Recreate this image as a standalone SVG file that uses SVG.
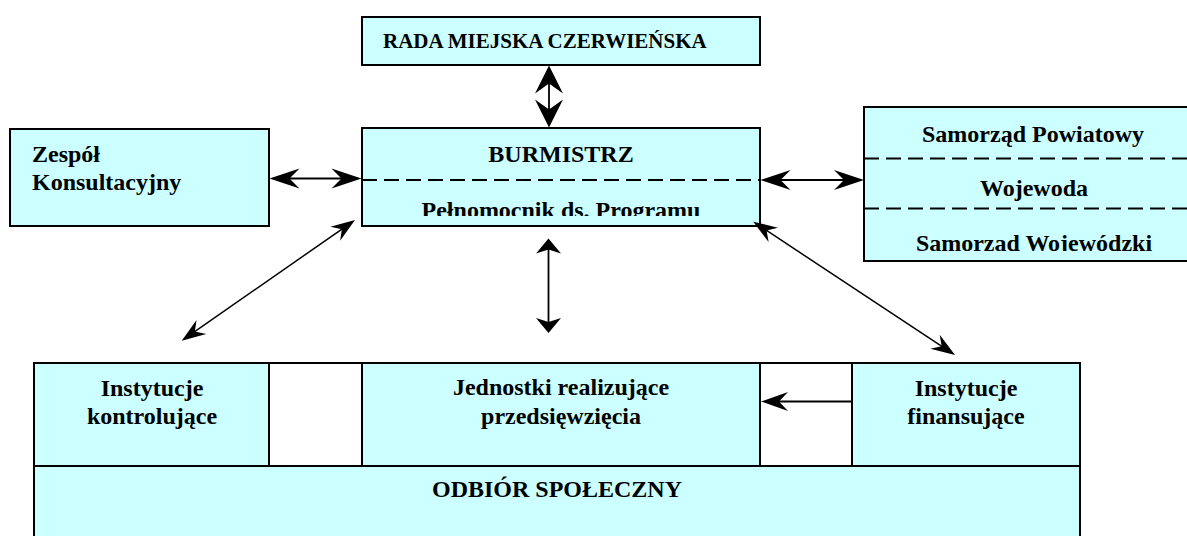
<svg xmlns="http://www.w3.org/2000/svg" width="1187" height="536" viewBox="0 0 1187 536">
<style>
.box{fill:#CCFFFF;stroke:#000;stroke-width:2}
.gap{fill:#FFFFFF;stroke:#000;stroke-width:2}
.div{fill:none;stroke:#000;stroke-width:2;stroke-dasharray:15 7}
.t{font-family:"Liberation Serif","Times New Roman",serif;font-weight:bold;font-size:24px;fill:#000}
.c{text-anchor:middle}
.ln{fill:none;stroke:#000;stroke-width:1.8}
.dg{fill:none;stroke:#000;stroke-width:1.5}
</style>
<defs>
<clipPath id="clipBur"><rect x="362" y="128" width="398" height="88"/></clipPath>
<clipPath id="clipSam"><rect x="864" y="107" width="340" height="144"/></clipPath>
<marker id="mA" markerUnits="userSpaceOnUse" markerWidth="1" markerHeight="1" refX="-4" refY="0" orient="auto-start-reverse" overflow="visible"><path d="M0,0 L-28,-14 L-18,0 L-28,14 Z" fill="#000"/></marker>
<marker id="mB" markerUnits="userSpaceOnUse" markerWidth="1" markerHeight="1" refX="-4" refY="0" orient="auto-start-reverse" overflow="visible"><path d="M0,0 L-30,-10 L-20,0 L-30,10 Z" fill="#000"/></marker>
<marker id="mC" markerUnits="userSpaceOnUse" markerWidth="1" markerHeight="1" refX="-4" refY="0" orient="auto-start-reverse" overflow="visible"><path d="M0,0 L-15,-12.5 L-11,0 L-15,12.5 Z" fill="#000"/></marker>
<marker id="mD" markerUnits="userSpaceOnUse" markerWidth="1" markerHeight="1" refX="-4" refY="0" orient="auto-start-reverse" overflow="visible"><path d="M0,0 L-24,-8.5 L-16,0 L-24,8.5 Z" fill="#000"/></marker>
<marker id="mE" markerUnits="userSpaceOnUse" markerWidth="1" markerHeight="1" refX="-4" refY="0" orient="auto-start-reverse" overflow="visible"><path d="M0,0 L-27,-9.5 L-18,0 L-27,9.5 Z" fill="#000"/></marker>
</defs>

<g id="rada">
<rect class="box" x="362" y="17" width="398" height="48"/>
<text class="t" x="383" y="48" style="font-size:21px">RADA MIEJSKA CZERWIEŃSKA</text>
</g>

<g id="burmistrz">
<rect class="box" x="362" y="128" width="398" height="98"/>
<line class="div" x1="362" y1="180" x2="760" y2="180"/>
<text class="t c" x="561" y="162">BURMISTRZ</text>
<text class="t c" x="561" y="218" clip-path="url(#clipBur)">Pełnomocnik ds. Programu</text>
</g>

<g id="zespol">
<rect class="box" x="10" y="129" width="259" height="97"/>
<text class="t" x="32" y="162">Zespół</text>
<text class="t" x="32" y="190">Konsultacyjny</text>
</g>

<g id="samorzady">
<rect class="box" x="864" y="107" width="340" height="154"/>
<line class="div" x1="864" y1="158.5" x2="1187" y2="158.5"/>
<line class="div" x1="864" y1="208.5" x2="1187" y2="208.5"/>
<text class="t c" x="1033" y="142">Samorząd Powiatowy</text>
<text class="t c" x="1034" y="196">Wojewoda</text>
<text class="t c" x="1034" y="250.5" clip-path="url(#clipSam)">Samorząd Wojewódzki</text>
</g>

<g id="odbior">
<rect class="box" x="34" y="466" width="1046" height="90"/>
<text class="t c" x="557" y="497">ODBIÓR SPOŁECZNY</text>
</g>

<g id="gaps">
<rect class="gap" x="269" y="363" width="93" height="103"/>
<rect class="gap" x="760" y="363" width="92" height="103"/>
</g>

<g id="kontrolujace">
<rect class="box" x="34" y="363" width="235" height="103"/>
<text class="t c" x="152" y="396">Instytucje</text>
<text class="t c" x="152" y="423.5">kontrolujące</text>
</g>

<g id="jednostki">
<rect class="box" x="362" y="363" width="398" height="103"/>
<text class="t c" x="561" y="395">Jednostki realizujące</text>
<text class="t c" x="561" y="423.5">przedsięwzięcia</text>
</g>

<g id="finansujace">
<rect class="box" x="852" y="363" width="228" height="103"/>
<text class="t c" x="966" y="396">Instytucje</text>
<text class="t c" x="966" y="423.5">finansujące</text>
</g>

<g id="connectors">
<line class="ln" x1="549" y1="69.5" x2="549" y2="123.5" marker-start="url(#mA)" marker-end="url(#mA)"/>
<line class="ln" x1="273.5" y1="178.5" x2="357.5" y2="178.5" marker-start="url(#mB)" marker-end="url(#mB)"/>
<line class="ln" x1="764.5" y1="180" x2="860" y2="180" marker-start="url(#mB)" marker-end="url(#mB)"/>
<line class="ln" x1="548.5" y1="242.5" x2="548.5" y2="329" marker-start="url(#mC)" marker-end="url(#mC)"/>
<line class="dg" x1="185" y1="338.4" x2="351.7" y2="222.3" marker-start="url(#mD)" marker-end="url(#mD)"/>
<line class="dg" x1="756.6" y1="223.9" x2="951.7" y2="352.8" marker-start="url(#mD)" marker-end="url(#mD)"/>
<line class="ln" x1="852" y1="401.5" x2="765" y2="401.5" marker-end="url(#mE)"/>
</g>
</svg>
